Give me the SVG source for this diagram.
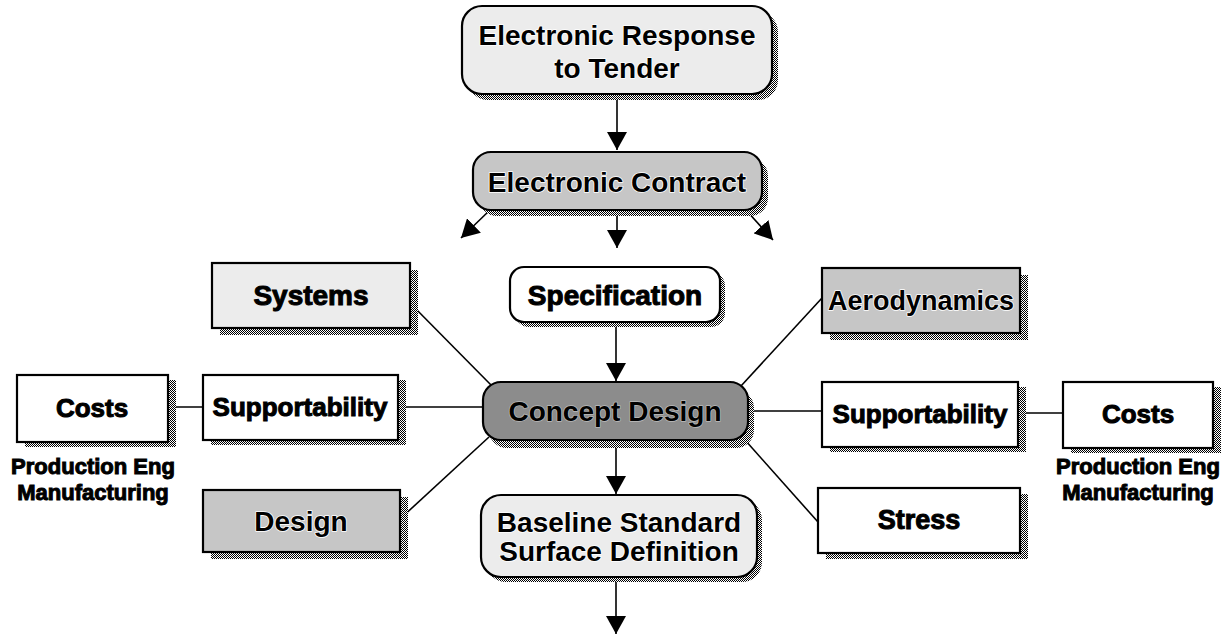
<svg xmlns="http://www.w3.org/2000/svg" width="1232" height="638" viewBox="0 0 1232 638">
<defs>
<pattern id="checker" width="2" height="2" patternUnits="userSpaceOnUse">
<rect width="2" height="2" fill="#fff"/>
<rect width="1" height="1" fill="#000"/>
<rect x="1" y="1" width="1" height="1" fill="#000"/>
</pattern>
<marker id="arr" viewBox="0 0 18 20" refX="18" refY="10" markerWidth="18" markerHeight="20" markerUnits="userSpaceOnUse" orient="auto">
<path d="M0,0 L18,10 L0,20 Z" fill="#000"/>
</marker>
<style>
.box{stroke:#000;stroke-width:2.2}
.light{fill:#ececec}
.white{fill:#fff}
.mid{fill:#c6c6c6}
.dark{fill:#8c8c8c}
.sh{fill:url(#checker)}
text{font-family:"Liberation Sans",Arial,sans-serif;font-weight:bold;text-anchor:middle;fill:#000}
.t28{font-size:28px}
.t27{font-size:27px}
.t26{font-size:26px}
.t22{font-size:22px}
.plain{stroke:#000;stroke-width:1}
.halo{stroke:#fff;stroke-width:1.6;paint-order:stroke;stroke-linejoin:round}
.conn line{stroke:#000;stroke-width:1.6}
.conn .a{marker-end:url(#arr)}
</style>
</defs>
<rect width="1232" height="638" fill="#fff"/>

<g id="connectors" class="conn">
<line class="a" x1="617" y1="94" x2="617" y2="150"/>
<line class="a" x1="617" y1="210" x2="617" y2="248"/>
<line class="a" x1="490" y1="210" x2="461" y2="238"/>
<line class="a" x1="746" y1="210" x2="773" y2="240"/>
<line class="a" x1="616" y1="322" x2="616" y2="381"/>
<line class="a" x1="616" y1="445" x2="616" y2="494"/>
<line class="a" x1="616" y1="582" x2="616" y2="634"/>
<line x1="410" y1="303" x2="492" y2="386"/>
<line x1="822" y1="298" x2="741" y2="386"/>
<line x1="168" y1="407" x2="203" y2="407"/>
<line x1="398" y1="407" x2="483" y2="407"/>
<line x1="400" y1="519" x2="489" y2="437"/>
<line x1="748" y1="411" x2="822" y2="411"/>
<line x1="1018" y1="413" x2="1063" y2="413"/>
<line x1="745" y1="440" x2="818" y2="522"/>
</g>

<g id="node-response">
<rect class="sh" x="468" y="12" width="310" height="88" rx="20"/>
<rect class="box light" x="462" y="6" width="310" height="88" rx="20"/>
<text class="t28 halo" x="617" y="45">Electronic Response</text>
<text class="t28 halo" x="617" y="78">to Tender</text>
</g>

<g id="node-contract">
<rect class="sh" x="479" y="158" width="289" height="58" rx="18"/>
<rect class="box mid" x="473" y="152" width="289" height="58" rx="18"/>
<text class="t28 halo" x="617" y="192">Electronic Contract</text>
</g>

<g id="node-specification">
<rect class="sh" x="515" y="272" width="210" height="55" rx="14"/>
<rect class="box white" x="510" y="267" width="210" height="55" rx="14"/>
<text class="t28 plain" x="615" y="305">Specification</text>
</g>

<g id="node-systems">
<rect class="sh" x="220" y="270" width="198" height="65"/>
<rect class="box light" x="212" y="263" width="198" height="65"/>
<text class="t28 plain" x="311" y="305">Systems</text>
</g>

<g id="node-aerodynamics">
<rect class="sh" x="830" y="275" width="198" height="65"/>
<rect class="box mid" x="822" y="268" width="198" height="65"/>
<text class="t27 halo" x="921" y="310">Aerodynamics</text>
</g>

<g id="node-concept">
<rect class="sh" x="489" y="390" width="265" height="58" rx="18"/>
<rect class="box dark" x="483" y="382" width="265" height="58" rx="18"/>
<text class="t28 halo" x="615" y="421" style="stroke:#bbb;stroke-width:1.5">Concept Design</text>
</g>

<g id="node-costs-left">
<rect class="sh" x="25" y="380" width="151" height="67"/>
<rect class="box white" x="17" y="375" width="151" height="67"/>
<text class="t26 plain" x="92" y="417">Costs</text>
</g>

<g id="node-supportability-left">
<rect class="sh" x="211" y="380" width="195" height="65"/>
<rect class="box white" x="203" y="375" width="195" height="65"/>
<text class="t26 plain" x="300" y="416">Supportability</text>
</g>

<g id="note-left">
<text class="t22 plain" x="93" y="474">Production Eng</text>
<text class="t22 plain" x="93" y="500">Manufacturing</text>
</g>

<g id="node-design">
<rect class="sh" x="211" y="497" width="197" height="62"/>
<rect class="box mid" x="203" y="490" width="197" height="62"/>
<text class="t28 halo" x="301" y="531">Design</text>
</g>

<g id="node-baseline">
<rect class="sh" x="486" y="500" width="276" height="82" rx="20"/>
<rect class="box light" x="481" y="495" width="276" height="82" rx="20"/>
<text class="t28 halo" x="619" y="532">Baseline Standard</text>
<text class="t28 halo" x="619" y="561">Surface Definition</text>
</g>

<g id="node-supportability-right">
<rect class="sh" x="830" y="387" width="196" height="65"/>
<rect class="box white" x="822" y="382" width="196" height="65"/>
<text class="t26 plain" x="920" y="423">Supportability</text>
</g>

<g id="node-costs-right">
<rect class="sh" x="1071" y="387" width="150" height="66"/>
<rect class="box white" x="1063" y="382" width="150" height="66"/>
<text class="t26 plain" x="1138" y="423">Costs</text>
</g>

<g id="note-right">
<text class="t22 plain" x="1138" y="474">Production Eng</text>
<text class="t22 plain" x="1138" y="500">Manufacturing</text>
</g>

<g id="node-stress">
<rect class="sh" x="826" y="494" width="202" height="65"/>
<rect class="box white" x="818" y="488" width="202" height="65"/>
<text class="t27 plain" x="919" y="529">Stress</text>
</g>
</svg>
